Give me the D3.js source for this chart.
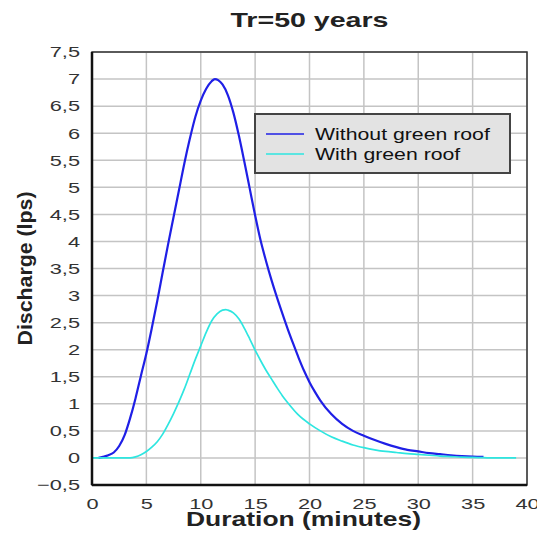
<!DOCTYPE html>
<html>
<head>
<meta charset="utf-8">
<script src="https://cdn.jsdelivr.net/npm/d3@7"></script>
<style>
  body { margin: 0; background: #fff; }
  text { font-family: "Liberation Sans", Arial, sans-serif; }
</style>
</head>
<body>
<svg id="chart" width="537" height="534"></svg>
<script>
// minutes / lps
var withoutRoofT = [0.6, 1, 1.5, 2, 2.5, 3, 3.5, 4, 4.5, 5, 5.5, 6, 6.5, 7, 7.5, 8, 8.5, 9, 9.5, 10,
  10.5, 11, 11.3, 11.6, 12, 12.5, 13, 13.5, 14, 14.5, 15, 15.5, 16, 16.5, 17, 17.5, 18, 18.5, 19, 19.5, 20,
  20.5, 21, 22, 23, 24, 25, 26, 27, 28, 29, 30, 31, 32, 33, 34, 35, 36]
var withoutRoofQ = [0, 0.02, 0.05, 0.1, 0.22, 0.42, 0.73, 1.1, 1.52, 1.93, 2.4, 2.9, 3.43, 3.95, 4.45, 4.95, 5.45, 5.9, 6.3, 6.6,
  6.82, 6.96, 7.0, 6.98, 6.9, 6.7, 6.38, 5.96, 5.48, 4.98, 4.48, 4.02, 3.64, 3.29, 2.97, 2.67, 2.38, 2.11, 1.85, 1.61, 1.4,
  1.22, 1.06, 0.81, 0.63, 0.5, 0.41, 0.33, 0.26, 0.2, 0.15, 0.12, 0.09, 0.07, 0.05, 0.035, 0.025, 0.02]

var withRoofT = [0, 1, 2, 3, 3.5, 4, 4.5, 5, 5.5, 6, 6.5, 7, 7.5, 8, 8.5, 9, 9.5, 10, 10.5, 11, 11.5, 12, 12.3,
  12.5, 13, 13.5, 14, 14.5, 15, 15.5, 16, 16.5, 17, 17.5, 18, 19, 20, 21, 22, 23, 24, 25, 26, 27, 28, 29, 30,
  31, 32, 33, 34, 35, 36, 37, 38, 39]
var withRoofQ = [0, 0, 0, 0, 0, 0.02, 0.06, 0.12, 0.2, 0.3, 0.44, 0.62, 0.82, 1.04, 1.28, 1.55, 1.82, 2.07, 2.32, 2.53, 2.66, 2.73, 2.74,
  2.73, 2.68, 2.57, 2.4, 2.2, 1.99, 1.8, 1.62, 1.46, 1.3, 1.15, 1.02, 0.79, 0.63, 0.5, 0.39, 0.31, 0.24, 0.19, 0.15, 0.12, 0.1, 0.08, 0.065,
  0.05, 0.035, 0.025, 0.015, 0.01, 0.005, 0, 0, 0]

var xTicks = [0, 5, 10, 15, 20, 25, 30, 35, 40]
var yTicks = d3.range(-0.5, 7.51, 0.5)
var seriesNames = ["Without green roof", "With green roof"]
var seriesColors = ["#1f1fe6", "#2ee6e0"]

var margin = {top: 52, right: 10, bottom: 49, left: 92}
var svg = d3.select("#chart")
var W = +svg.attr("width"), H = +svg.attr("height")
var w = W - margin.left - margin.right, h = H - margin.top - margin.bottom

var x = d3.scaleLinear().domain([0, 40]).range([0, w])
var y = d3.scaleLinear().domain([-0.5, 7.5]).range([h, 0])
var fmt = d => d3.format("~g")(d).replace(".", ",")

// the source picture has its text stretched sideways
var stretch = (sel, k) => sel.each(function () {
  var len = this.getComputedTextLength()
  d3.select(this).attr("textLength", len * k).attr("lengthAdjust", "spacingAndGlyphs")
})

var g = svg.append("g").attr("transform", `translate(${margin.left},${margin.top})`)

// grid
g.selectAll(".vgrid").data(xTicks).enter().append("line")
  .attr("x1", d => x(d)).attr("x2", d => x(d)).attr("y1", 0).attr("y2", h)
  .attr("stroke", "#c4c4c4").attr("stroke-width", 1.5)
g.selectAll(".hgrid").data(yTicks).enter().append("line")
  .attr("y1", d => y(d)).attr("y2", d => y(d)).attr("x1", 0).attr("x2", w)
  .attr("stroke", "#c4c4c4").attr("stroke-width", 1.5)

// axes (labels only, lines drawn as frame)
var xAxis = g.append("g").attr("transform", `translate(0,${h})`)
  .call(d3.axisBottom(x).tickValues(xTicks).tickSize(0).tickPadding(13).tickFormat(fmt))
var yAxis = g.append("g")
  .call(d3.axisLeft(y).tickValues(yTicks).tickSize(0).tickPadding(12).tickFormat(fmt))
;[xAxis, yAxis].forEach(a => {
  a.select(".domain").remove()
  a.selectAll("text").attr("font-size", 15).attr("fill", "#333")
    .attr("font-family", "Liberation Sans, Arial, sans-serif")
    .call(stretch, 1.45)
})

// curves
var line = d3.line().x(d => x(d[0])).y(d => y(d[1])).curve(d3.curveMonotoneX)
var series = [
  d3.zip(withoutRoofT, withoutRoofQ),
  d3.zip(withRoofT, withRoofQ)
]
g.selectAll(".series").data(series).enter().append("path")
  .attr("d", line).attr("fill", "none")
  .attr("stroke", (d, i) => seriesColors[i])
  .attr("stroke-width", (d, i) => i == 0 ? 2.2 : 1.7)

// frame
g.append("rect").attr("width", w).attr("height", h)
  .attr("fill", "none").attr("stroke", "#333").attr("stroke-width", 1.5)
g.append("line").attr("x1", 0).attr("x2", 0).attr("y1", 0).attr("y2", h)
  .attr("stroke", "#111").attr("stroke-width", 2.5)
g.append("line").attr("x1", 0).attr("x2", w).attr("y1", h).attr("y2", h)
  .attr("stroke", "#111").attr("stroke-width", 2.5)

// legend
var lg = svg.append("g").attr("transform", "translate(255,114)")
lg.append("rect").attr("width", 255).attr("height", 59)
  .attr("fill", "#e3e3e3").attr("stroke", "#444").attr("stroke-width", 2)
seriesNames.forEach((name, i) => {
  var yy = 20 + i * 20
  lg.append("line").attr("x1", 11).attr("x2", 49).attr("y1", yy).attr("y2", yy)
    .attr("stroke", seriesColors[i]).attr("stroke-width", 1.5)
  lg.append("text").attr("x", 60).attr("y", yy + 6).attr("font-size", 17)
    .attr("fill", "#111").text(name).call(stretch, 1.25)
})

// titles
svg.append("text").attr("x", margin.left + w / 2).attr("y", 27)
  .attr("text-anchor", "middle").attr("font-size", 21).attr("font-weight", "bold")
  .attr("fill", "#222").text("Tr=50 years").attr("textLength", 158).attr("lengthAdjust", "spacingAndGlyphs")
svg.append("text").attr("x", margin.left + w / 2 - 6).attr("y", 526)
  .attr("text-anchor", "middle").attr("font-size", 21).attr("font-weight", "bold")
  .attr("fill", "#222").text("Duration (minutes)").attr("textLength", 235).attr("lengthAdjust", "spacingAndGlyphs")
svg.append("text").attr("transform", `translate(32,${margin.top + h / 2}) rotate(-90)`)
  .attr("text-anchor", "middle").attr("font-size", 20).attr("font-weight", "bold")
  .attr("fill", "#222").text("Discharge (lps)").attr("textLength", 154).attr("lengthAdjust", "spacingAndGlyphs")
</script>
</body>
</html>
